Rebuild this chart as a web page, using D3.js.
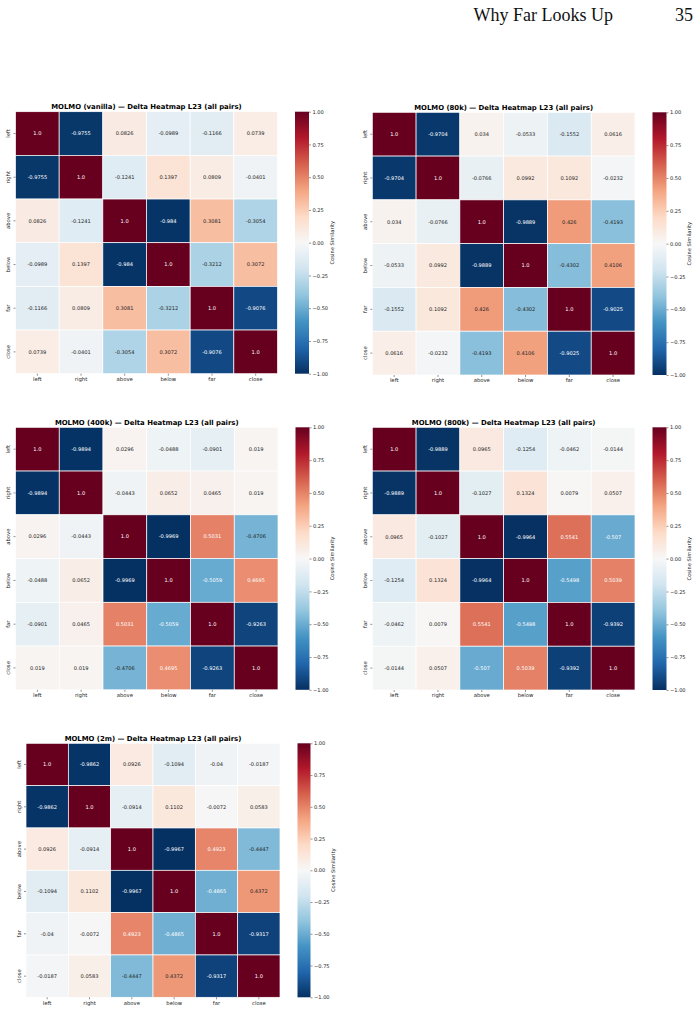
<!DOCTYPE html>
<html>
<head>
<meta charset="utf-8">
<script src="https://cdn.jsdelivr.net/npm/d3@7"></script>
<style>
	body { margin: 0; background: #fff; }
	svg { display: block; }
</style>
</head>
<body>
<svg id="chart" width="699" height="1012"></svg>
<script>
// Cosine similarity of L23 deltas, six spatial words
const LABELS = [ 'left', 'right', 'above', 'below', 'far', 'close' ];
const TITLES = [
	'MOLMO (vanilla) \u2014 Delta Heatmap L23 (all pairs)',
	'MOLMO (80k) \u2014 Delta Heatmap L23 (all pairs)',
	'MOLMO (400k) \u2014 Delta Heatmap L23 (all pairs)',
	'MOLMO (800k) \u2014 Delta Heatmap L23 (all pairs)',
	'MOLMO (2m) \u2014 Delta Heatmap L23 (all pairs)'
];
const VANILLA = [
	[ 1.0, -0.9755, 0.0826, -0.0989, -0.1166, 0.0739 ],
	[ -0.9755, 1.0, -0.1241, 0.1397, 0.0809, -0.0401 ],
	[ 0.0826, -0.1241, 1.0, -0.984, 0.3081, -0.3054 ],
	[ -0.0989, 0.1397, -0.984, 1.0, -0.3212, 0.3072 ],
	[ -0.1166, 0.0809, 0.3081, -0.3212, 1.0, -0.9076 ],
	[ 0.0739, -0.0401, -0.3054, 0.3072, -0.9076, 1.0 ]
];
const STEP_80K = [
	[ 1.0, -0.9704, 0.034, -0.0533, -0.1552, 0.0616 ],
	[ -0.9704, 1.0, -0.0766, 0.0992, 0.1092, -0.0232 ],
	[ 0.034, -0.0766, 1.0, -0.9889, 0.426, -0.4193 ],
	[ -0.0533, 0.0992, -0.9889, 1.0, -0.4302, 0.4106 ],
	[ -0.1552, 0.1092, 0.426, -0.4302, 1.0, -0.9025 ],
	[ 0.0616, -0.0232, -0.4193, 0.4106, -0.9025, 1.0 ]
];
const STEP_400K = [
	[ 1.0, -0.9894, 0.0296, -0.0488, -0.0901, 0.019 ],
	[ -0.9894, 1.0, -0.0443, 0.0652, 0.0465, 0.019 ],
	[ 0.0296, -0.0443, 1.0, -0.9969, 0.5031, -0.4706 ],
	[ -0.0488, 0.0652, -0.9969, 1.0, -0.5059, 0.4695 ],
	[ -0.0901, 0.0465, 0.5031, -0.5059, 1.0, -0.9263 ],
	[ 0.019, 0.019, -0.4706, 0.4695, -0.9263, 1.0 ]
];
const STEP_800K = [
	[ 1.0, -0.9889, 0.0965, -0.1254, -0.0462, -0.0144 ],
	[ -0.9889, 1.0, -0.1027, 0.1324, 0.0079, 0.0507 ],
	[ 0.0965, -0.1027, 1.0, -0.9964, 0.5541, -0.507 ],
	[ -0.1254, 0.1324, -0.9964, 1.0, -0.5498, 0.5039 ],
	[ -0.0462, 0.0079, 0.5541, -0.5498, 1.0, -0.9392 ],
	[ -0.0144, 0.0507, -0.507, 0.5039, -0.9392, 1.0 ]
];
const STEP_2M = [
	[ 1.0, -0.9862, 0.0926, -0.1094, -0.04, -0.0187 ],
	[ -0.9862, 1.0, -0.0914, 0.1102, -0.0072, 0.0583 ],
	[ 0.0926, -0.0914, 1.0, -0.9967, 0.4923, -0.4447 ],
	[ -0.1094, 0.1102, -0.9967, 1.0, -0.4865, 0.4372 ],
	[ -0.04, -0.0072, 0.4923, -0.4865, 1.0, -0.9317 ],
	[ -0.0187, 0.0583, -0.4447, 0.4372, -0.9317, 1.0 ]
];
const CBAR_TICKS = [ -1, -0.75, -0.5, -0.25, 0, 0.25, 0.5, 0.75, 1 ];

// where each heatmap sits on the page
const LAYOUT = [
	{ x: 15.5, y: 111.7, size: 262, cbW: 14 },
	{ x: 372.3, y: 112.3, size: 262.7, cbW: 14 },
	{ x: 15.5, y: 427.3, size: 262.5, cbW: 14 },
	{ x: 372.3, y: 427.3, size: 262.7, cbW: 14 },
	{ x: 26, y: 743.3, size: 254, cbW: 13 }
];
const MATRICES = [ VANILLA, STEP_80K, STEP_400K, STEP_800K, STEP_2M ];

const FONT = "'DejaVu Sans', sans-serif";
const TEXT_DARK = '#262626';

// matplotlib RdBu_r: linear segments between the 11 brewer colours
const rdbu = d3.schemeRdBu[11];
const colorScale = d3
	.scaleLinear()
	.domain(d3.range(11).map((i) => 1 - i * 0.2))
	.range(rdbu)
	.interpolate(d3.interpolateRgb)
	.clamp(true);

function luminance(c) {
	const rgb = d3.rgb(c);
	const lin = (v) => {
		v = v / 255;
		return v <= 0.03928 ? v / 12.92 : Math.pow((v + 0.055) / 1.055, 2.4);
	};
	return 0.2126 * lin(rgb.r) + 0.7152 * lin(rgb.g) + 0.0722 * lin(rgb.b);
}

const fmtAnnot = (v) => (Number.isInteger(v) ? v.toFixed(1) : String(v));
const fmtTick = (v) => d3.format('.2f')(v).replace('-', '\u2212');

const svg = d3.select('#chart');

// page header
svg
	.append('text')
	.attr('x', 613)
	.attr('y', 21)
	.attr('text-anchor', 'end')
	.style('font-family', "'Liberation Serif', serif")
	.style('font-size', '18px')
	.attr('fill', '#111')
	.text('Why Far Looks Up');
svg
	.append('text')
	.attr('x', 693)
	.attr('y', 21)
	.attr('text-anchor', 'end')
	.style('font-family', "'Liberation Serif', serif")
	.style('font-size', '18px')
	.attr('fill', '#111')
	.text('35');

// gradient for the colour bars
const defs = svg.append('defs');
const grad = defs
	.append('linearGradient')
	.attr('id', 'cbar-grad')
	.attr('x1', 0)
	.attr('y1', 1)
	.attr('x2', 0)
	.attr('y2', 0);
d3.range(0, 1.0001, 0.05).forEach((t) => {
	grad.append('stop').attr('offset', t).attr('stop-color', colorScale(-1 + 2 * t));
});

MATRICES.forEach((matrix, p) => drawHeatmap(matrix, TITLES[p], LAYOUT[p]));

function drawHeatmap(matrix, title, box) {
	const g = svg.append('g').attr('transform', 'translate(' + box.x + ', ' + box.y + ')');
	const xScale = d3.scaleBand().domain(LABELS).range([ 0, box.size ]);
	const yScale = d3.scaleBand().domain(LABELS).range([ 0, box.size ]);
	const cells = [];
	matrix.forEach((row, i) => row.forEach((v, j) => cells.push({ row: LABELS[i], col: LABELS[j], v: v })));

	g
		.selectAll('rect.cell')
		.data(cells)
		.enter()
		.append('rect')
		.attr('class', 'cell')
		.attr('x', (d) => xScale(d.col))
		.attr('y', (d) => yScale(d.row))
		.attr('width', xScale.bandwidth())
		.attr('height', yScale.bandwidth())
		.attr('fill', (d) => colorScale(d.v))
		.attr('stroke', '#fff')
		.attr('stroke-width', 0.7);

	g
		.selectAll('text.annot')
		.data(cells)
		.enter()
		.append('text')
		.attr('class', 'annot')
		.attr('x', (d) => xScale(d.col) + xScale.bandwidth() / 2)
		.attr('y', (d) => yScale(d.row) + yScale.bandwidth() / 2)
		.attr('dy', '0.35em')
		.attr('text-anchor', 'middle')
		.style('font-family', FONT)
		.style('font-size', '5.1px')
		.attr('fill', (d) => (luminance(colorScale(d.v)) > 0.408 ? TEXT_DARK : '#fff'))
		.text((d) => fmtAnnot(d.v));

	// axes
	const xAxis = d3.axisBottom(xScale).tickSize(2).tickPadding(1.5);
	const xg = g.append('g').attr('transform', 'translate(0, ' + box.size + ')').call(xAxis);
	const yAxis = d3.axisLeft(yScale).tickSize(2).tickPadding(1.5);
	const yg = g.append('g').call(yAxis);
	[ xg, yg ].forEach((ax) => {
		ax.select('.domain').remove();
		ax.selectAll('line').attr('stroke', TEXT_DARK).attr('stroke-width', 0.5);
		ax.selectAll('text').style('font-family', FONT).style('font-size', '5.3px').attr('fill', TEXT_DARK);
	});
	yg
		.selectAll('text')
		.attr('text-anchor', 'middle')
		.attr('dy', 0)
		.attr('transform', function() {
			return 'translate(-5.5, 0) rotate(-90)';
		})
		.attr('x', 0);

	// title
	g
		.append('text')
		.attr('x', box.size / 2)
		.attr('y', -2.5)
		.attr('text-anchor', 'middle')
		.style('font-family', FONT)
		.style('font-weight', 'bold')
		.style('font-size', '6.9px')
		.attr('fill', '#000')
		.text(title);

	// colour bar
	const cbX = box.size + 17.5;
	const cb = g.append('g').attr('transform', 'translate(' + cbX + ', 0)');
	cb
		.append('rect')
		.attr('width', box.cbW)
		.attr('height', box.size)
		.attr('fill', 'url(#cbar-grad)');
	const cbScale = d3.scaleLinear().domain([ -1, 1 ]).range([ box.size, 0 ]);
	const cbAxis = d3.axisRight(cbScale).tickValues(CBAR_TICKS).tickFormat(fmtTick).tickSize(2).tickPadding(1.5);
	const cbg = cb.append('g').attr('transform', 'translate(' + box.cbW + ', 0)').call(cbAxis);
	cbg.select('.domain').remove();
	cbg.selectAll('line').attr('stroke', TEXT_DARK).attr('stroke-width', 0.5);
	cbg.selectAll('text').style('font-family', FONT).style('font-size', '5.1px').attr('fill', TEXT_DARK);
	cb
		.append('text')
		.attr('transform', 'translate(' + (box.cbW + 23) + ', ' + box.size / 2 + ') rotate(-90)')
		.attr('text-anchor', 'middle')
		.attr('dy', '0.35em')
		.style('font-family', FONT)
		.style('font-size', '5.2px')
		.attr('fill', TEXT_DARK)
		.text('Cosine Similarity');
}
</script>
</body>
</html>
